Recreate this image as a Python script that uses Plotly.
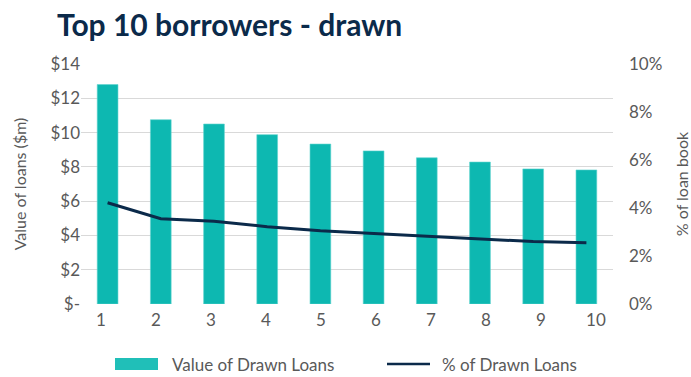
import plotly.graph_objects as go

borrowers = [1, 2, 3, 4, 5, 6, 7, 8, 9, 10]
tick_labels = ["1", "2", "3", "4", "5", "6", "7", "8", "9", "10"]
value_drawn = [12.8, 10.75, 10.5, 9.88, 9.33, 8.93, 8.53, 8.28, 7.88, 7.82]
pct_drawn = [0.0422, 0.0355, 0.0345, 0.0322, 0.0305, 0.0294, 0.0283, 0.0271, 0.0260, 0.0255]
left_ticks = [0, 2, 4, 6, 8, 10, 12, 14]
left_ticktext = ["$-", "$2", "$4", "$6", "$8", "$10", "$12", "$14"]
legend_names = ["Value of Drawn Loans", "% of Drawn Loans"]

TEAL = "#0db8b1"
NAVY = "#0b2a4a"
GREY = "#595959"
FONT = "Lato"

L, R, T, B = 81, 78, 64, 73
W, H = 691, 377
PW, PH = W - L - R, H - T - B


def px_x(p):
    return (p - L) / PW


def px_y(p):
    return (H - B - p) / PH


fig = go.Figure()
fig.add_trace(go.Bar(
    x=borrowers, y=value_drawn, name=legend_names[0],
    marker=dict(color=TEAL, line=dict(color="#5fd3ce", width=0.6)),
    width=0.39, yaxis="y", xaxis="x", showlegend=False,
))
fig.add_trace(go.Scatter(
    x=borrowers, y=pct_drawn, name=legend_names[1], mode="lines",
    line=dict(color=NAVY, width=3), yaxis="y2", xaxis="x", showlegend=False,
))
# axis carrying the category labels
fig.add_trace(go.Scatter(
    x=borrowers, y=[None] * len(borrowers), xaxis="x2", yaxis="y",
    showlegend=False, hoverinfo="skip", mode="markers",
))

# manual legend
fig.add_shape(type="rect", xref="paper", yref="paper",
              x0=px_x(115), x1=px_x(158), y0=px_y(370), y1=px_y(358),
              fillcolor="#20bfb8", line=dict(width=0))
fig.add_shape(type="line", xref="paper", yref="paper",
              x0=px_x(387), x1=px_x(430), y0=px_y(364), y1=px_y(364),
              line=dict(color=NAVY, width=2.5))
fig.add_annotation(text=legend_names[0], xref="paper", yref="paper",
                   x=px_x(170), y=px_y(364), xanchor="left", yanchor="middle",
                   showarrow=False, font=dict(size=17, color=GREY, family=FONT))
fig.add_annotation(text=legend_names[1], xref="paper", yref="paper",
                   x=px_x(440), y=px_y(364), xanchor="left", yanchor="middle",
                   showarrow=False, font=dict(size=17, color=GREY, family=FONT))

fig.update_layout(
    width=W, height=H,
    margin=dict(l=L, r=R, t=T, b=B, autoexpand=False),
    paper_bgcolor="white", plot_bgcolor="white",
    font=dict(family=FONT, color=GREY, size=16),
    title=dict(
        text="<b>Top 10 borrowers - drawn</b>",
        font=dict(family=FONT, size=30, color=NAVY),
        x=57 / W, xanchor="left", xref="container",
        y=1 - 25 / H, yanchor="middle", yref="container",
    ),
    xaxis=dict(
        range=[0.5, 10.5], showticklabels=False, showgrid=False,
        zeroline=False, showline=False, ticks="", automargin=False,
    ),
    xaxis2=dict(
        overlaying="x", side="bottom", range=[0.636, 10.31],
        tickvals=borrowers, ticktext=tick_labels, showgrid=False,
        zeroline=False, showline=False, ticks="", automargin=False,
        ticklabelstandoff=4,
        tickfont=dict(size=17, color=GREY, family=FONT),
    ),
    yaxis=dict(
        range=[0, 14], tickvals=left_ticks, ticktext=left_ticktext,
        showgrid=True, gridcolor="#d9d9d9", gridwidth=1,
        zeroline=False, showline=False, ticks="", automargin=False,
        tickfont=dict(size=17, color=GREY, family=FONT),
        title=dict(text="Value of loans ($m)", font=dict(size=16, color=GREY, family=FONT), standoff=19),
    ),
    yaxis2=dict(
        range=[0, 0.10], dtick=0.02, tickformat=".0%", overlaying="y", side="right",
        showgrid=False, zeroline=False, showline=False, ticks="", automargin=False,
        ticklabelstandoff=15,
        tickfont=dict(size=17, color=GREY, family=FONT),
        title=dict(text="% of loan book", font=dict(size=16, color=GREY, family=FONT), standoff=21),
    ),
    showlegend=False,
)

fig.write_html("out.html")
